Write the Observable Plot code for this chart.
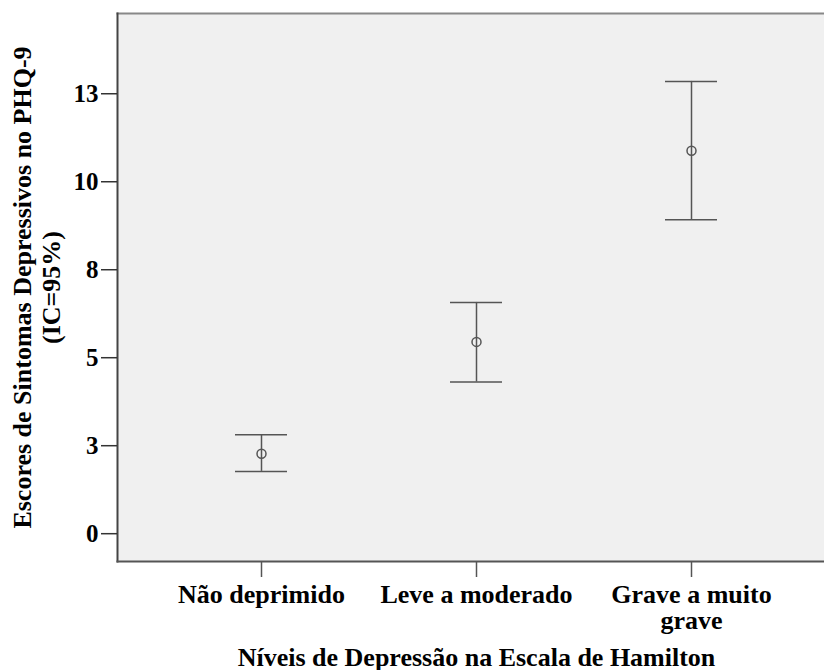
<!DOCTYPE html>
<html>
<head>
<meta charset="utf-8">
<script src="https://cdn.jsdelivr.net/npm/d3@7"></script>
<script src="https://cdn.jsdelivr.net/npm/@observablehq/plot@0.6"></script>
<style>
  html, body { margin: 0; padding: 0; background: #fff; }
</style>
</head>
<body>
<div id="chart"></div>
<script>
const categories = ["Não deprimido", "Leve a moderado", "Grave a muito grave"];
const xTickLabels = ["Não deprimido", "Leve a moderado", "Grave a muito\ngrave"];
const means = [2.27, 5.45, 10.88];
const lowerCI = [1.77, 4.31, 8.92];
const upperCI = [2.81, 6.57, 12.85];
const yTicks = [0, 2.5, 5, 7.5, 10, 12.5];
const yDomain = [-0.79, 14.78];
const yTitle = "Escores de Sintomas Depressivos no PHQ-9\n(IC=95%)";
const xTitle = "Níveis de Depressão na Escala de Hamilton";

const data = categories.map((c, i) => ({cat: c, mean: means[i], lo: lowerCI[i], hi: upperCI[i]}));

const font = "'Liberation Serif', 'Times New Roman', Times, serif";
const barColor = "#555";

const chart = Plot.plot({
  width: 824,
  height: 670,
  marginLeft: 117,
  marginRight: 0,
  marginTop: 13,
  marginBottom: 109,
  style: {fontFamily: font, fontWeight: "bold", fontSize: "26px", background: "#fff", color: "#000"},
  x: {type: "band", domain: categories, paddingInner: 0.758, paddingOuter: 0.521, align: 0.525},
  y: {domain: yDomain},
  marks: [
    Plot.frame({fill: "#f0f0f0", stroke: null}),
    Plot.frame({anchor: "top", stroke: "#888", strokeWidth: 2}),
    Plot.frame({anchor: "left", stroke: "#444", strokeWidth: 2}),
    Plot.frame({anchor: "bottom", stroke: "#555", strokeWidth: 2}),
    Plot.axisY({ticks: yTicks, tickFormat: d => Math.round(d), tickSize: 16, tickPadding: 3,
      fontSize: 25, fontWeight: "bold", stroke: "#333", strokeWidth: 1.5, label: null}),
    Plot.axisX({tickFormat: d => xTickLabels[categories.indexOf(d)], tickSize: 16, tickPadding: 7,
      fontSize: 26, fontWeight: "bold", lineHeight: 1.0, stroke: "#555", strokeWidth: 1.5, label: null}),
    Plot.ruleX(data, {x: "cat", y1: "lo", y2: "hi", stroke: barColor, strokeWidth: 1.5}),
    Plot.tickY(data, {x: "cat", y: "hi", stroke: barColor, strokeWidth: 1.5}),
    Plot.tickY(data, {x: "cat", y: "lo", stroke: barColor, strokeWidth: 1.5}),
    Plot.dot(data, {x: "cat", y: "mean", r: 4.5, stroke: barColor, strokeWidth: 1.5, fill: "none"}),
    Plot.text([yTitle], {text: d => d, frameAnchor: "left", textAnchor: "middle", rotate: -90, dx: -81,
      fontSize: 26, fontWeight: "bold", lineHeight: 1.08, fill: "#000"}),
    Plot.text([xTitle], {text: d => d, x: () => categories[1], frameAnchor: "bottom", dy: 104,
      fontSize: 26, fontWeight: "bold", fill: "#000"})
  ]
});
document.getElementById("chart").appendChild(chart);
</script>
</body>
</html>
